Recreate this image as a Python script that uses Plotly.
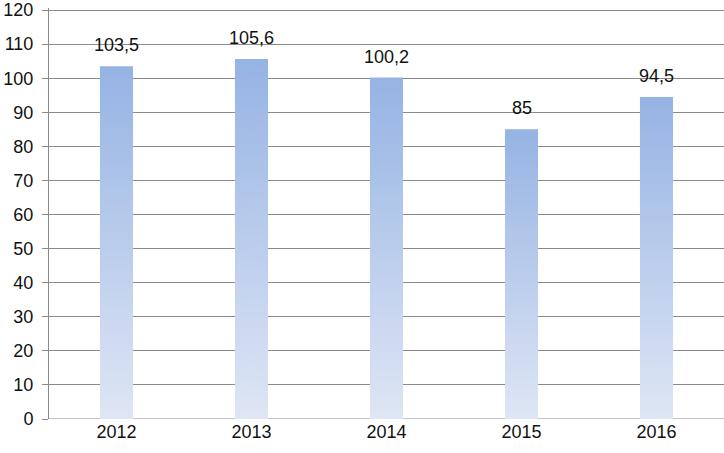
import plotly.graph_objects as go

years = ["2012", "2013", "2014", "2015", "2016"]
values = [103.5, 105.6, 100.2, 85, 94.5]
y_ticks = list(range(0, 121, 10))

BAR_W = 0.245
GRID = "#8a8a8a"
FONT = dict(family="Liberation Sans, Arial, sans-serif", size=18, color="#111111")

fig = go.Figure()

# Excel-style gradient bars: scatter polygons with a vertical fill gradient
for i, (yr, v) in enumerate(zip(years, values)):
    x0, x1 = i - BAR_W / 2, i + BAR_W / 2
    fig.add_trace(go.Scatter(
        x=[x0, x1, x1, x0, x0],
        y=[0, 0, v, v, 0],
        mode="lines",
        line=dict(width=0),
        fill="toself",
        fillgradient=dict(type="vertical",
                          colorscale=[[0, "#dfe6f5"], [1, "#95b3e3"]]),
        hoverinfo="skip",
        showlegend=False,
    ))

# value labels above bars
for i, v in enumerate(values):
    fig.add_annotation(
        x=i, y=v,
        text=f"{v:g}".replace(".", ","),
        showarrow=False,
        yanchor="bottom",
        yshift=9,
        font=FONT,
    )

fig.update_layout(
    width=724, height=453,
    margin=dict(l=49, r=0, t=8, b=34),
    paper_bgcolor="white",
    plot_bgcolor="white",
    font=FONT,
    separators=", ",
    showlegend=False,
    xaxis=dict(
        range=[-0.5, len(years) - 0.5],
        tickmode="array",
        tickvals=list(range(len(years))),
        ticktext=years,
        showgrid=False,
        zeroline=False,
        showline=False,
        ticks="",
        automargin=False,
        fixedrange=True,
    ),
    yaxis=dict(
        # a little headroom so the 120 gridline is not clipped at the edge
        range=[0, 120.6],
        tickvals=y_ticks,
        showgrid=True,
        gridcolor=GRID,
        gridwidth=1,
        zeroline=False,
        showline=True,
        linecolor=GRID,
        linewidth=1,
        ticks="outside",
        ticklen=6,
        tickcolor=GRID,
        ticklabelstandoff=5,
        ticklabeloverflow="allow",
        automargin=False,
        fixedrange=True,
    ),
)

# baseline at 0
fig.add_hline(y=0, line=dict(color=GRID, width=1), layer="below")

# drop the default 8px page margin so the figure sits at the window origin
fig.write_html("out.html", config={"displayModeBar": False},
               post_script="document.body.style.margin='0';")
